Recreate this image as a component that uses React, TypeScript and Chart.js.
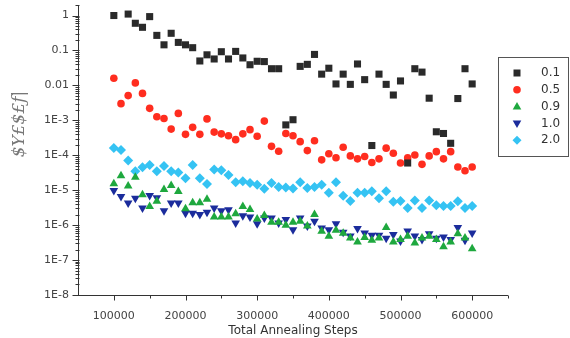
import React, { useEffect, useRef } from 'react';
import { Chart, registerables } from 'chart.js';

Chart.register(...registerables);

const steps = [
  100000, 110000, 120000, 130000, 140000, 150000, 160000, 170000, 180000, 190000,
  200000, 210000, 220000, 230000, 240000, 250000, 260000, 270000, 280000, 290000,
  300000, 310000, 320000, 330000, 340000, 350000, 360000, 370000, 380000, 390000,
  400000, 410000, 420000, 430000, 440000, 450000, 460000, 470000, 480000, 490000,
  500000, 510000, 520000, 530000, 540000, 550000, 560000, 570000, 580000, 590000,
  600000,
];

const seriesLabels = ['0.1', '0.5', '0.9', '1.0', '2.0'];

const s01: (number | null)[] = [
  1.0, null, 1.1, 0.6, 0.46, 0.93, 0.27, 0.145, 0.31, 0.17,
  0.145, 0.12, 0.05, 0.075, 0.057, 0.092, 0.057, 0.094, 0.061, 0.039,
  0.049, 0.048, 0.03, 0.03, 7.4e-4, 1.04e-3, 0.035, 0.04, 0.077, 0.021,
  0.031, 0.011, 0.021, 0.0107, 0.041, 0.0146, 1.9e-4, 0.021, 0.0107, 0.0053,
  0.0134, 6.0e-5, 0.03, 0.024, 0.0043, 4.7e-4, 4.2e-4, 2.2e-4, 0.0042, 0.03,
  0.011,
];

const s05: (number | null)[] = [
  0.016, 0.003, 0.0051, 0.0118, 0.0059, 0.0022, 0.00126, 0.00113, 5.6e-4, 1.58e-3,
  3.97e-4, 6.3e-4, 3.97e-4, 1.1e-3, 4.6e-4, 4.1e-4, 3.6e-4, 2.8e-4, 4.1e-4, 5.4e-4,
  3.5e-4, 9.5e-4, 1.8e-4, 1.3e-4, 4.2e-4, 3.6e-4, 2.45e-4, 1.36e-4, 2.6e-4, 7.4e-5,
  1.1e-4, 8.5e-5, 1.7e-4, 9.6e-5, 7.9e-5, 9.2e-5, 6.2e-5, 7.9e-5, 1.6e-4, 1.14e-4,
  6.0e-5, 8.4e-5, 1.02e-4, 5.5e-5, 9.6e-5, 1.27e-4, 7.9e-5, 1.27e-4, 4.6e-5, 3.6e-5,
  4.6e-5,
];

const s09: (number | null)[] = [
  1.52e-5, 2.6e-5, 1.31e-5, 2.35e-5, 7.4e-6, 3.4e-6, 4.8e-6, 1.05e-5, 1.37e-5, 9.1e-6,
  2.95e-6, 4.4e-6, 4.4e-6, 5.5e-6, 1.7e-6, 1.7e-6, 1.7e-6, 2.1e-6, 3.4e-6, 2.8e-6,
  1.5e-6, 1.9e-6, 1.2e-6, 1.2e-6, 1.0e-6, 1.2e-6, 1.3e-6, 9.5e-7, 2.0e-6, 6.7e-7,
  4.8e-7, 7.1e-7, 5.9e-7, 4.3e-7, 3.3e-7, 4.4e-7, 3.7e-7, 4.3e-7, 8.5e-7, 3.3e-7,
  3.9e-7, 4.8e-7, 3.1e-7, 4.3e-7, 4.8e-7, 3.9e-7, 2.4e-7, 3.3e-7, 5.7e-7, 4.3e-7,
  2.1e-7,
];

const s10: (number | null)[] = [
  9.8e-6, 6.6e-6, 4.3e-6, 5.9e-6, 3.1e-6, 7.1e-6, 6.1e-6, 2.6e-6, 4.3e-6, 4.3e-6,
  2.2e-6, 2.2e-6, 2.0e-6, 2.35e-6, 3.1e-6, 2.6e-6, 2.76e-6, 1.15e-6, 1.87e-6, 1.7e-6,
  1.1e-6, 1.6e-6, 1.6e-6, 1.15e-6, 1.44e-6, 7.4e-7, 1.6e-6, 9.5e-7, 1.29e-6, 8.3e-7,
  7.4e-7, 1.1e-6, 6.3e-7, 4.9e-7, 8.0e-7, 6.0e-7, 5.1e-7, 5.1e-7, 4.2e-7, 5.4e-7,
  3.5e-7, 6.8e-7, 4.9e-7, 3.9e-7, 5.7e-7, 4.2e-7, 4.6e-7, 3.9e-7, 8.5e-7, 3.7e-7,
  6.0e-7,
];

const s20: (number | null)[] = [
  1.62e-4, 1.42e-4, 7.1e-5, 3.5e-5, 4.5e-5, 5.3e-5, 3.5e-5, 4.9e-5, 3.5e-5, 3.2e-5,
  2.2e-5, 5.3e-5, 2.2e-5, 1.5e-5, 3.9e-5, 3.7e-5, 2.7e-5, 1.7e-5, 1.8e-5, 1.6e-5,
  1.44e-5, 1.1e-5, 1.6e-5, 1.23e-5, 1.2e-5, 1.12e-5, 1.7e-5, 1.15e-5, 1.23e-5, 1.44e-5,
  8.5e-6, 1.7e-5, 6.9e-6, 4.9e-6, 8.5e-6, 8.5e-6, 9.4e-6, 5.9e-6, 9.4e-6, 4.7e-6,
  4.9e-6, 3.1e-6, 5.1e-6, 3.1e-6, 5.1e-6, 3.7e-6, 3.5e-6, 3.5e-6, 4.8e-6, 3.1e-6,
  3.5e-6,
];

const xTickValues = [100000, 200000, 300000, 400000, 500000, 600000];
const xMinorValues = [150000, 250000, 350000, 450000, 550000, 650000];
const yTickValues = [1e-8, 1e-7, 1e-6, 1e-5, 1e-4, 1e-3, 1e-2, 1e-1, 1];
const yTickLabels = ['1E-8', '1E-7', '1E-6', '1E-5', '1E-4', '1E-3', '0.01', '0.1', '1'];
const xTitle = 'Total Annealing Steps';
const yTitle = '$Y£$£ƒ|';

const colors = ['#2a2a2a', '#ff2d1f', '#1ea83e', '#1b2c9c', '#35c3f3'];
const styles = ['rect', 'circle', 'triangle', 'triangleDown', 'rectRot'];

function toPoints(arr: (number | null)[]) {
  const pts: { x: number; y: number }[] = [];
  arr.forEach((v, i) => {
    if (v !== null) pts.push({ x: steps[i], y: v });
  });
  return pts;
}

function drawMarker(ctx: CanvasRenderingContext2D, style: string, x: number, y: number, color: string) {
  ctx.fillStyle = color;
  ctx.beginPath();
  if (style === 'rect') {
    ctx.rect(x - 3.5, y - 3.5, 7, 7);
  } else if (style === 'circle') {
    ctx.arc(x, y, 3.8, 0, Math.PI * 2);
  } else if (style === 'triangle') {
    ctx.moveTo(x, y - 4.5);
    ctx.lineTo(x + 4.3, y + 3);
    ctx.lineTo(x - 4.3, y + 3);
    ctx.closePath();
  } else if (style === 'triangleDown') {
    ctx.moveTo(x, y + 4.5);
    ctx.lineTo(x + 4.3, y - 3);
    ctx.lineTo(x - 4.3, y - 3);
    ctx.closePath();
  } else {
    ctx.moveTo(x, y - 4.5);
    ctx.lineTo(x + 4.5, y);
    ctx.lineTo(x, y + 4.5);
    ctx.lineTo(x - 4.5, y);
    ctx.closePath();
  }
  ctx.fill();
}

const decorPlugin = {
  id: 'decor',
  afterDraw(chart: any) {
    const ctx: CanvasRenderingContext2D = chart.ctx;
    const xs = chart.scales.x;
    const ys = chart.scales.y;
    const ca = chart.chartArea;
    ctx.save();
    ctx.strokeStyle = '#333';
    ctx.lineWidth = 1;
    const ax = Math.round(ca.left) + 0.5;
    const ay = Math.round(ca.bottom) + 0.5;
    ctx.beginPath();
    ctx.moveTo(ax, ca.top);
    ctx.lineTo(ax, ay);
    ctx.lineTo(ca.right, ay);
    yTickValues.forEach((v) => {
      const py = Math.round(ys.getPixelForValue(v)) + 0.5;
      ctx.moveTo(ax - 6, py);
      ctx.lineTo(ax + 1, py);
    });
    for (let d = -8; d <= 0; d++) {
      for (let m = 2; m <= 9; m++) {
        const v = m * Math.pow(10, d);
        if (v > ys.max) continue;
        const py = Math.round(ys.getPixelForValue(v)) + 0.5;
        ctx.moveTo(ax - 3, py);
        ctx.lineTo(ax + 1, py);
      }
    }
    xTickValues.forEach((v) => {
      const px = Math.round(xs.getPixelForValue(v)) + 0.5;
      ctx.moveTo(px, ay);
      ctx.lineTo(px, ay + 5);
    });
    xMinorValues.forEach((v) => {
      const px = Math.round(xs.getPixelForValue(v)) + 0.5;
      ctx.moveTo(px, ay);
      ctx.lineTo(px, ay + 3);
    });
    ctx.stroke();

    ctx.save();
    ctx.translate(20, 124);
    ctx.rotate(-Math.PI / 2);
    ctx.fillStyle = '#777';
    ctx.font = 'italic 17px "DejaVu Serif"';
    ctx.textAlign = 'center';
    ctx.textBaseline = 'middle';
    ctx.fillText(yTitle, 0, 0);
    ctx.restore();

    ctx.strokeStyle = '#555';
    ctx.strokeRect(498.5, 57.5, 70, 99);
    ctx.font = '12px "DejaVu Sans"';
    ctx.textAlign = 'left';
    ctx.textBaseline = 'middle';
    chart.data.datasets.forEach((ds: any, i: number) => {
      const y = 73 + i * 16.8;
      drawMarker(ctx, styles[i], 517, y, colors[i]);
      ctx.fillStyle = '#333';
      ctx.fillText(ds.label, 541, y);
    });
    ctx.restore();
  },
};

export default function App() {
  const ref = useRef<HTMLCanvasElement | null>(null);
  useEffect(() => {
    if (!ref.current) return;
    const all = [s01, s05, s09, s10, s20];
    const datasets = all.map((arr, i) => ({
      label: seriesLabels[i],
      data: toPoints(arr),
      showLine: false,
      backgroundColor: colors[i],
      borderColor: colors[i],
      pointBorderWidth: 0,
      pointStyle: styles[i] === 'triangleDown' ? 'triangle' : styles[i],
      rotation: styles[i] === 'triangleDown' ? 180 : 0,
      pointRadius: styles[i] === 'circle' ? 3.8 : 5,
    }));
    const chart = new Chart(ref.current, {
      type: 'scatter',
      data: { datasets },
      options: {
        animation: false,
        responsive: false,
        layout: { padding: { top: 4, right: 62, left: 0, bottom: 0 } },
        plugins: { legend: { display: false }, tooltip: { enabled: false } },
        scales: {
          x: {
            type: 'linear',
            min: 50000,
            max: 650000,
            grid: { display: false, drawTicks: false },
            border: { display: false },
            afterBuildTicks: (s: any) => {
              s.ticks = xTickValues.map((v) => ({ value: v }));
            },
            afterFit: (s: any) => {
              s.height = 43;
              s.paddingLeft = 0;
              s.paddingRight = 0;
            },
            ticks: {
              autoSkip: false,
              maxRotation: 0,
              padding: 15,
              color: '#444',
              font: { family: 'DejaVu Sans', size: 11 },
              callback: (v: any) => String(v),
            },
            title: {
              display: true,
              text: xTitle,
              color: '#333',
              font: { family: 'DejaVu Sans', size: 12 },
              padding: { top: 0, bottom: 0 },
            },
          },
          y: {
            type: 'logarithmic',
            min: 1e-8,
            max: 2,
            grid: { display: false, drawTicks: false },
            border: { display: false },
            afterBuildTicks: (s: any) => {
              s.ticks = yTickValues.map((v) => ({ value: v }));
            },
            afterFit: (s: any) => {
              s.width = 78;
              s.paddingTop = 0;
              s.paddingBottom = 0;
            },
            ticks: {
              autoSkip: false,
              padding: 9,
              color: '#444',
              font: { family: 'DejaVu Sans', size: 11 },
              callback: (v: any) => {
                const idx = yTickValues.findIndex((t) => Math.abs(Math.log10(t) - Math.log10(v)) < 1e-6);
                return idx >= 0 ? yTickLabels[idx] : '';
              },
            },
          },
        },
      },
      plugins: [decorPlugin],
    } as any);
    return () => chart.destroy();
  }, []);
  return (
    <div style={{ position: 'fixed', left: 0, top: 0, width: 570, height: 338, background: '#fff' }}>
      <canvas ref={ref} width={570} height={338} style={{ width: 570, height: 338, display: 'block' }} />
    </div>
  );
}
